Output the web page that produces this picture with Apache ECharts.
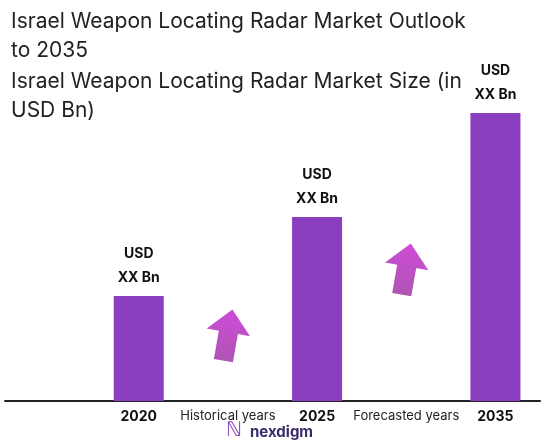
<!DOCTYPE html>
<html><head><meta charset="utf-8">
<script src="https://cdn.jsdelivr.net/npm/echarts@6/dist/echarts.min.js"></script>
<style>html,body{margin:0;padding:0;background:#fff}#c{width:550px;height:448px}</style>
</head><body><div id="c"></div>
<script>
const categories = ['', '2020', 'Historical years', '2025', 'Forecasted years', '2035'];
const barValues = [null, 35, null, 61.3, null, 96];
const barLabels = ['', 'USD\nXX Bn', '', 'USD\nXX Bn', '', 'USD\nXX Bn'];
const arrowValues = [null, null, 22, null, 44, null];
const chart = echarts.init(document.getElementById('c'));
const arrowPath = 'path://M50,0 L100,45 L72,45 L72,100 L28,100 L28,45 L0,45 Z';
chart.setOption({
  animation: false,
  title: [
    {text: 'Israel Weapon Locating Radar Market Outlook\nto 2035', left: 6, top: 2,
     textStyle: {fontFamily: 'Inter', fontWeight: 'normal', fontSize: 21, color: '#222', lineHeight: 29}},
    {text: 'Israel Weapon Locating Radar Market Size (in\nUSD Bn)', left: 6, top: 62,
     textStyle: {fontFamily: 'Inter', fontWeight: 'normal', fontSize: 21, color: '#222', lineHeight: 29}}
  ],
  grid: {left: 5, right: 10, top: 101, bottom: 47},
  xAxis: {type: 'category', data: categories, axisTick: {show: false},
    axisLine: {lineStyle: {color: '#222', width: 2}},
    axisLabel: {interval: 0, color: '#222', fontFamily: 'Inter', fontSize: 13, margin: 9,
      formatter: v => /^\d+$/.test(v) ? '{b|' + v + '}' : v,
      rich: {b: {fontWeight: 'bold', fontSize: 14, fontFamily: 'Inter', color: '#111'}}}},
  yAxis: {type: 'value', min: 0, max: 100, show: false, splitLine: {show: false}},
  series: [
    {type: 'bar', data: barValues, barWidth: 50,
     itemStyle: {color: '#8a3fc1'},
     label: {show: true, position: 'top', distance: 6, formatter: p => barLabels[p.dataIndex],
       fontFamily: 'Inter', fontWeight: 'bold', fontSize: 14, color: '#111', lineHeight: 24}},
    {type: 'scatter', data: arrowValues, symbol: arrowPath, symbolSize: [44, 52], symbolRotate: -10,
     itemStyle: {color: new echarts.graphic.LinearGradient(0, 0, 0, 1, [{offset: 0, color: '#c21fd0'}, {offset: 1, color: '#9a2a9e'}])}}
  ],
  graphic: [
    {type: 'text', left: 250, top: 425, style: {text: 'nexdigm', font: 'bold 15px "Inter"', fill: '#3b2a6b'}},
    {type: 'text', left: 226, top: 421, style: {text: 'ℕ', font: '20px "DejaVu Sans"', fill: '#8a3fc1'}}
  ]
});
</script></body></html>
